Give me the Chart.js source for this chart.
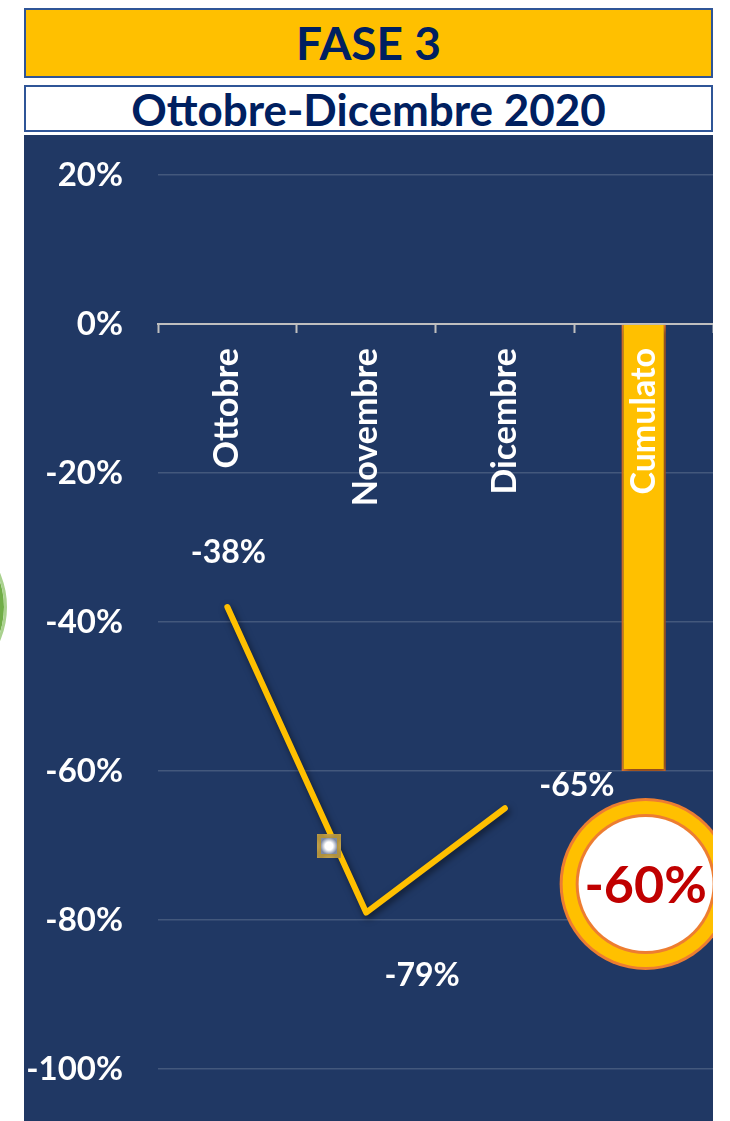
<!DOCTYPE html>
<html lang="it">
<head>
<meta charset="utf-8">
<script src="https://cdn.jsdelivr.net/npm/chart.js@4.4.1/dist/chart.umd.min.js"></script>
<style>
  body { margin: 0; width: 730px; height: 1121px; background: #fff; position: relative; overflow: hidden; font-family: Lato, "Noto Sans", sans-serif; }
  .box { position: absolute; left: 24px; width: 685px; border: 2px solid #2f5597; text-align: center; font-weight: bold; color: #002060; }
  #fase { top: 8px; height: 66px; line-height: 66px; background: #ffc000; font-size: 46px; }
  #periodo { top: 85px; height: 43px; line-height: 44px; background: #fff; font-size: 44px; }
  #panel { position: absolute; left: 24px; top: 135px; width: 689px; height: 986px; background: #203864; }
  #anello { position: absolute; left: -167px; top: 520px; width: 174px; height: 174px; box-sizing: border-box;
            border-radius: 50%; border: 3px solid #a9d18e; background: #fff; box-shadow: inset 0 0 0 14px #70ad47; }
  #cursore { position: absolute; left: 317px; top: 834px; width: 24px; height: 24px; box-sizing: border-box;
             border: 4px solid rgba(184,146,44,0.85); background: radial-gradient(#fff 35%, #7f8aa3 75%); filter: blur(0.7px); }
</style>
</head>
<body>
<div class="box" id="fase">FASE 3</div>
<div class="box" id="periodo">Ottobre-Dicembre 2020</div>
<div id="anello"></div>
<div id="panel"><canvas id="grafico"></canvas></div>
<div id="cursore"></div>

<script>
// mesi della fase 3 e variazione percentuale rispetto all'anno precedente
const categorie = ['Ottobre', 'Novembre', 'Dicembre', 'Cumulato'];
const variazioniMensili = [-38, -79, -65, null];
const variazioneCumulata = [null, null, null, -60];
const asseY = { min: -100, max: 20, passo: 20 };

const giallo = '#ffc000';
const arancio = '#ed7d31';
const bianco = '#ffffff';
const font = 'Lato, "Noto Sans", sans-serif';

// ombra sotto linea e barra
const ombra = {
    id: 'ombra',
    beforeDatasetDraw(chart) {
        const ctx = chart.ctx;
        ctx.save();
        ctx.shadowColor = 'rgba(0,0,0,0.55)';
        ctx.shadowBlur = 7;
        ctx.shadowOffsetX = 2;
        ctx.shadowOffsetY = 3;
    },
    afterDatasetDraw(chart) {
        chart.ctx.restore();
    }
};

// etichette dei valori mensili
const etichette = {
    id: 'etichette',
    afterDatasetsDraw(chart, args, opts) {
        const ctx = chart.ctx;
        const meta = chart.getDatasetMeta(0);
        ctx.save();
        ctx.font = 'bold 32px ' + font;
        ctx.fillStyle = bianco;
        ctx.textAlign = 'center';
        ctx.textBaseline = 'middle';
        meta.data.forEach(function(p, i) {
            const v = variazioniMensili[i];
            if (v === null) return;
            const d = opts.spostamenti[i];
            ctx.fillText(v + '%', p.x + d[0], p.y + d[1]);
        });
        ctx.restore();
    }
};

// bollino con il valore cumulato
const bollino = {
    id: 'bollino',
    afterDraw(chart) {
        const ctx = chart.ctx;
        const bar = chart.getDatasetMeta(1).data[3];
        const v = variazioneCumulata[3];
        const cx = bar.x + 2, cy = bar.y + 113, r = 86;
        ctx.save();
        ctx.beginPath();
        ctx.arc(cx, cy, r, 0, Math.PI * 2);
        ctx.fillStyle = arancio;
        ctx.fill();
        ctx.beginPath();
        ctx.arc(cx, cy, r - 3, 0, Math.PI * 2);
        ctx.fillStyle = giallo;
        ctx.fill();
        ctx.beginPath();
        ctx.arc(cx, cy, r - 16, 0, Math.PI * 2);
        ctx.fillStyle = arancio;
        ctx.fill();
        ctx.beginPath();
        ctx.arc(cx, cy, r - 19, 0, Math.PI * 2);
        ctx.fillStyle = bianco;
        ctx.fill();
        ctx.font = 'bold 52px ' + font;
        ctx.fillStyle = '#c00000';
        ctx.textAlign = 'center';
        ctx.textBaseline = 'middle';
        ctx.fillText(v + '%', cx, cy + 2);
        ctx.restore();
    }
};

function senzaMargini(scale) {
    scale.paddingTop = 0;
    scale.paddingBottom = 0;
    scale.paddingLeft = 0;
    scale.paddingRight = 0;
}

const canvas = document.getElementById('grafico');
canvas.width = 689;
canvas.height = 986;

new Chart(canvas, {
    type: 'bar',
    data: {
        labels: categorie,
        datasets: [{
            type: 'line',
            data: variazioniMensili,
            borderColor: giallo,
            borderWidth: 6,
            borderCapStyle: 'round',
            borderJoinStyle: 'round',
            pointRadius: 0,
            tension: 0,
            spanGaps: false
        }, {
            type: 'bar',
            data: variazioneCumulata,
            backgroundColor: giallo,
            borderColor: arancio,
            borderWidth: 2,
            barPercentage: 0.64,
            categoryPercentage: 0.5
        }]
    },
    options: {
        responsive: false,
        animation: false,
        layout: { padding: { top: 40, bottom: 52, left: 0, right: 0 } },
        plugins: {
            legend: { display: false },
            tooltip: { enabled: false },
            etichette: { spostamenti: [[1, -54], [56, 63], [72, -23]] }
        },
        scales: {
            x: {
                position: { y: 0 },
                afterFit: senzaMargini,
                grid: { offset: true, drawOnChartArea: false, tickLength: 8, tickColor: '#bfbfbf', tickWidth: 2 },
                border: { color: '#bfbfbf', width: 2 },
                ticks: {
                    z: 1,
                    color: bianco,
                    font: { family: font, size: 34, weight: 'bold' },
                    minRotation: 90,
                    maxRotation: 90,
                    autoSkip: false,
                    padding: 16
                }
            },
            y: {
                min: asseY.min,
                max: asseY.max,
                afterFit(scale) { senzaMargini(scale); scale.width = 134; },
                grid: { color: 'rgba(255,255,255,0.16)', lineWidth: 1.5, drawTicks: false },
                border: { display: false },
                ticks: {
                    stepSize: asseY.passo,
                    padding: 35,
                    color: bianco,
                    font: { family: font, size: 33, weight: 'bold' },
                    callback: function(v) { return v + '%'; }
                }
            }
        }
    },
    plugins: [ombra, etichette, bollino]
});
</script>
</body>
</html>
